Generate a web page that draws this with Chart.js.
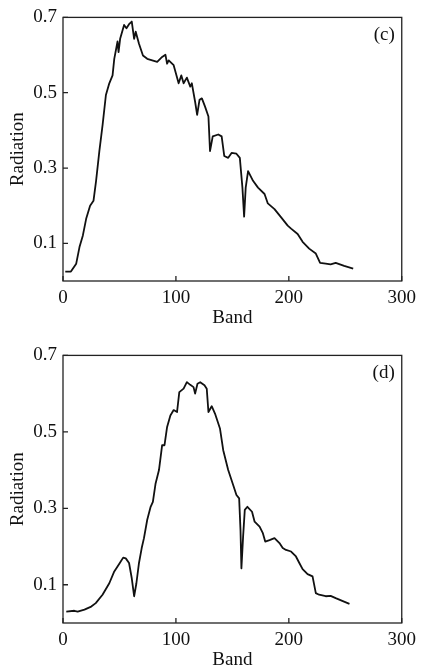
<!DOCTYPE html>
<html>
<head>
<meta charset="utf-8">
<script src="https://cdn.jsdelivr.net/npm/chart.js@4.4.1/dist/chart.umd.min.js"></script>
<style>
  html, body { margin: 0; padding: 0; background: #fff; overflow: hidden; }
  .panel { position: absolute; left: 0; width: 422px; }
</style>
</head>
<body>
<div class="panel" style="top:0px"><canvas id="chart-c" width="422" height="336"></canvas></div>
<div class="panel" style="top:338px"><canvas id="chart-d" width="422" height="340"></canvas></div>
<script>
// panel (c)
var bandsC = [2, 7, 11.7, 14.6, 17.6, 20.5, 24, 27, 29.3, 32.2, 35.1, 38, 41, 43.9, 45.4, 48.3, 49.2, 50.6, 54.1, 56.2,
  58.5, 60.9, 63, 64.4, 67.3, 70.8, 74.6, 79, 83.4, 87.8, 90.7, 92.2, 93.6, 98, 102.4, 104.8, 106.8, 109.7, 112.7, 114.1,
  117, 118.8, 120.9, 123, 125.8, 128.8, 130.2, 132.6, 137.5, 140.5, 142.8, 146.3, 149.3, 153.6, 156.6, 158.9, 160.4, 161.8, 163.9, 168.3,
  172.7, 178.5, 181.4, 187.3, 193.2, 199, 202, 207.8, 212.2, 218, 223.9, 227.7, 232.7, 237, 241.5, 249, 257];
var radC = [0.025, 0.025, 0.046, 0.09, 0.121, 0.165, 0.2, 0.213, 0.266, 0.345, 0.415, 0.494, 0.525, 0.546, 0.59, 0.636, 0.608, 0.643, 0.68, 0.671,
  0.682, 0.689, 0.643, 0.662, 0.63, 0.599, 0.59, 0.586, 0.582, 0.595, 0.601, 0.577, 0.586, 0.573, 0.525, 0.546, 0.525, 0.54, 0.516, 0.525,
  0.476, 0.441, 0.481, 0.485, 0.463, 0.437, 0.345, 0.384, 0.389, 0.384, 0.332, 0.327, 0.34, 0.338, 0.327, 0.248, 0.171, 0.248, 0.292, 0.266,
  0.248, 0.231, 0.206, 0.191, 0.169, 0.147, 0.139, 0.125, 0.104, 0.086, 0.073, 0.048, 0.046, 0.044, 0.048, 0.04, 0.033];

// panel (d)
var bandsD = [2.9, 10, 13, 19, 25, 29, 35, 41, 45.4, 48.3, 50.3, 53.3, 55.6, 58.5, 60.9, 63, 65, 67.3, 69.7, 71.7,
  74.6, 77.6, 79.6, 82, 85, 87.8, 89.9, 92.2, 95.1, 98, 101, 103, 106.8, 109.7, 112.7, 115.6, 117, 119.1, 121.5, 125.3,
  127.3, 128.8, 131.7, 134.6, 139, 141.9, 146.3, 150.7, 153.6, 156, 157.2, 158, 159.5, 161, 163.3, 167.4, 169.7, 174.1, 177, 179.1,
  182.9, 187.3, 191.7, 194.6, 197.5, 202, 206.3, 209.3, 212.2, 216.6, 221, 223.9, 226.8, 232.7, 237, 241.5, 247.3, 253.7];
var radD = [0.03, 0.032, 0.03, 0.035, 0.043, 0.052, 0.074, 0.104, 0.135, 0.148, 0.157, 0.171, 0.169, 0.157, 0.117, 0.07, 0.104, 0.157, 0.196, 0.222,
  0.27, 0.304, 0.317, 0.365, 0.4, 0.465, 0.465, 0.513, 0.543, 0.557, 0.552, 0.604, 0.613, 0.63, 0.623, 0.617, 0.6, 0.626, 0.63, 0.622,
  0.613, 0.552, 0.567, 0.548, 0.509, 0.452, 0.4, 0.361, 0.335, 0.326, 0.243, 0.143, 0.226, 0.296, 0.304, 0.291, 0.265, 0.252, 0.235, 0.213,
  0.217, 0.222, 0.209, 0.196, 0.191, 0.187, 0.174, 0.157, 0.141, 0.128, 0.122, 0.078, 0.074, 0.07, 0.071, 0.065, 0.058, 0.05];

var xTicks = [0, 100, 200, 300];
var yTicks = [0.1, 0.3, 0.5, 0.7];

var serif = "'Liberation Serif', 'DejaVu Serif', serif";

// box around the plot, inward tick marks and the panel letter
var framePlugin = {
  id: 'frame',
  afterDraw: function (chart, args, opts) {
    var c = chart.ctx, a = chart.chartArea;
    var xs = chart.scales.x, ys = chart.scales.y;
    c.save();
    c.strokeStyle = '#222';
    c.lineWidth = 1.3;
    c.strokeRect(a.left, a.top, a.right - a.left, a.bottom - a.top);
    c.beginPath();
    xTicks.forEach(function (v) {
      var px = xs.getPixelForValue(v);
      c.moveTo(px, a.bottom);
      c.lineTo(px, a.bottom - 5);
    });
    yTicks.forEach(function (v) {
      var py = ys.getPixelForValue(v);
      c.moveTo(a.left, py);
      c.lineTo(a.left + 5, py);
    });
    c.stroke();
    c.fillStyle = '#111';
    c.font = '19px ' + serif;
    c.textAlign = 'right';
    c.textBaseline = 'middle';
    c.fillText(opts.letter, a.right - 7, a.top + 18);
    c.restore();
  }
};

function makeChart(id, bands, rad, letter, padTop, canvasH, areaBottom) {
  var pts = bands.map(function (b, i) { return { x: b, y: rad[i] }; });
  return new Chart(document.getElementById(id), {
    type: 'line',
    data: {
      datasets: [{
        data: pts,
        borderColor: '#111',
        borderWidth: 1.8,
        pointRadius: 0,
        tension: 0,
        borderJoinStyle: 'round',
        fill: false
      }]
    },
    options: {
      responsive: false,
      animation: false,
      devicePixelRatio: 1,
      layout: { padding: { top: padTop, right: 17, left: 0, bottom: 0 } },
      plugins: {
        legend: { display: false },
        tooltip: { enabled: false },
        frame: { letter: letter }
      },
      scales: {
        x: {
          type: 'linear',
          min: 0,
          max: 300,
          afterBuildTicks: function (s) { s.ticks = xTicks.map(function (v) { return { value: v }; }); },
          afterFit: function (s) { s.height = canvasH - areaBottom; },
          grid: { display: false, drawTicks: false },
          border: { display: false },
          ticks: { color: '#111', font: { family: serif, size: 19 }, padding: 6, maxRotation: 0 },
          title: { display: true, text: 'Band', color: '#111', font: { family: serif, size: 19 }, padding: { top: 0, bottom: 7 } }
        },
        y: {
          min: 0,
          max: 0.7,
          afterBuildTicks: function (s) { s.ticks = yTicks.map(function (v) { return { value: v }; }); },
          afterFit: function (s) { s.width = 63; },
          grid: { display: false, drawTicks: false },
          border: { display: false },
          ticks: {
            color: '#111',
            font: { family: serif, size: 19 },
            padding: 6,
            callback: function (v) { return Number(v).toFixed(1); }
          },
          title: { display: true, text: 'Radiation', color: '#111', font: { family: serif, size: 19 }, padding: { top: 7, bottom: 0 } }
        }
      }
    },
    plugins: [framePlugin]
  });
}

makeChart('chart-c', bandsC, radC, '(c)', 15, 336, 281);
makeChart('chart-d', bandsD, radD, '(d)', 17, 340, 285);
</script>
</body>
</html>
